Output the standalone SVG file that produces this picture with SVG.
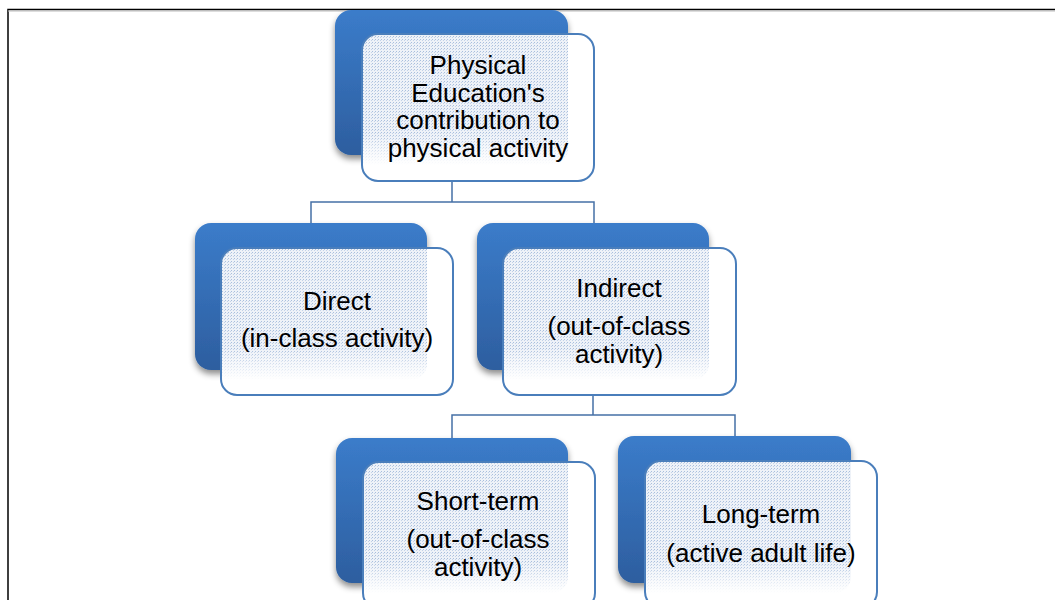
<svg xmlns="http://www.w3.org/2000/svg" width="1055" height="600" viewBox="0 0 1055 600">
<defs>
<linearGradient id="back" x1="0" y1="0" x2="0" y2="1">
<stop offset="0" stop-color="#3b7cca"/>
<stop offset="1" stop-color="#2d5e9f"/>
</linearGradient>
<filter id="sh" x="-10%" y="-10%" width="120%" height="130%">
<feDropShadow dx="0" dy="4" stdDeviation="3" flood-color="#000" flood-opacity="0.45"/>
</filter>
<pattern id="dots" width="3" height="3" patternUnits="userSpaceOnUse">
<rect width="3" height="3" fill="#eef2f8"/>
<rect width="1" height="1" fill="#a9bfdd"/>
<rect x="2" y="1" width="1" height="1" fill="#c3d2e8"/>
</pattern>
<linearGradient id="fade" x1="0" y1="0" x2="0" y2="1">
<stop offset="0" stop-color="#fff" stop-opacity="0"/>
<stop offset="0.8" stop-color="#fff" stop-opacity="0"/>
<stop offset="1" stop-color="#fff" stop-opacity="1"/>
</linearGradient>
<clipPath id="c1"><rect x="362" y="34" width="232" height="147" rx="16"/></clipPath>
<clipPath id="c2"><rect x="221" y="248" width="232" height="147" rx="16"/></clipPath>
<clipPath id="c3"><rect x="503" y="248" width="233" height="147" rx="16"/></clipPath>
<clipPath id="c4"><rect x="363" y="462" width="232" height="147" rx="16"/></clipPath>
<clipPath id="c5"><rect x="645" y="461" width="232" height="147" rx="16"/></clipPath>
</defs>
<style>
.back{fill:url(#back);filter:url(#sh)}
.front{fill:#fff}
.edge{fill:none;stroke:#4a7ebb;stroke-width:2}
.tex{fill:url(#dots)}
.fd{fill:url(#fade)}
.frame{fill:none;stroke:#000;stroke-width:1.5}
.conn{fill:none;stroke:#4670a6;stroke-width:1.5}
text{font-family:"Liberation Sans",Arial,sans-serif;font-size:26px;fill:#000;text-anchor:middle}
</style>
<rect width="1055" height="600" fill="#fff"/>
<path class="frame" d="M8 600 V9.5 H1055"/>
<line x1="8" y1="11" x2="1055" y2="11" stroke="#bbb" stroke-width="1"/>
<g id="connectors">
<path class="conn" d="M452 181 V202 H594 V223 M452 202 H311 V223"/>
<path class="conn" d="M593 395 V415 H735 V437 M593 415 H452 V438"/>
</g>
<g id="node-pe">
<rect class="back" x="335" y="10" width="233" height="145" rx="16"/>
<rect class="front" x="362" y="34" width="232" height="147" rx="16"/>
<g clip-path="url(#c1)">
<rect class="tex" x="335" y="10" width="233" height="155" rx="16"/>
<rect class="fd" x="335" y="10" width="233" height="155"/>
</g>
<rect class="edge" x="362" y="34" width="232" height="147" rx="16"/>
<text x="478" y="74">Physical<tspan x="478" dy="27.5">Education's</tspan><tspan x="478" dy="27.5">contribution to</tspan><tspan x="478" dy="27.5">physical activity</tspan></text>
</g>
<g id="node-direct">
<rect class="back" x="195" y="223" width="232" height="147" rx="16"/>
<rect class="front" x="221" y="248" width="232" height="147" rx="16"/>
<g clip-path="url(#c2)">
<rect class="tex" x="195" y="223" width="232" height="157" rx="16"/>
<rect class="fd" x="195" y="223" width="232" height="157"/>
</g>
<rect class="edge" x="221" y="248" width="232" height="147" rx="16"/>
<text x="337" y="310">Direct<tspan x="337" dy="37">(in-class activity)</tspan></text>
</g>
<g id="node-indirect">
<rect class="back" x="477" y="223" width="232" height="147" rx="16"/>
<rect class="front" x="503" y="248" width="233" height="147" rx="16"/>
<g clip-path="url(#c3)">
<rect class="tex" x="477" y="223" width="232" height="157" rx="16"/>
<rect class="fd" x="477" y="223" width="232" height="157"/>
</g>
<rect class="edge" x="503" y="248" width="233" height="147" rx="16"/>
<text x="619" y="297">Indirect<tspan x="619" dy="37.5">(out-of-class</tspan><tspan x="619" dy="28">activity)</tspan></text>
</g>
<g id="node-short">
<rect class="back" x="336" y="438" width="232" height="145" rx="16"/>
<rect class="front" x="363" y="462" width="232" height="147" rx="16"/>
<g clip-path="url(#c4)">
<rect class="tex" x="336" y="438" width="232" height="155" rx="16"/>
<rect class="fd" x="336" y="438" width="232" height="155"/>
</g>
<rect class="edge" x="363" y="462" width="232" height="147" rx="16"/>
<text x="478" y="510">Short-term<tspan x="478" dy="37.5">(out-of-class</tspan><tspan x="478" dy="28">activity)</tspan></text>
</g>
<g id="node-long">
<rect class="back" x="618" y="436" width="233" height="147" rx="16"/>
<rect class="front" x="645" y="461" width="232" height="147" rx="16"/>
<g clip-path="url(#c5)">
<rect class="tex" x="618" y="436" width="233" height="157" rx="16"/>
<rect class="fd" x="618" y="436" width="233" height="157"/>
</g>
<rect class="edge" x="645" y="461" width="232" height="147" rx="16"/>
<text x="761" y="523">Long-term<tspan x="761" dy="39">(active adult life)</tspan></text>
</g>
</svg>
